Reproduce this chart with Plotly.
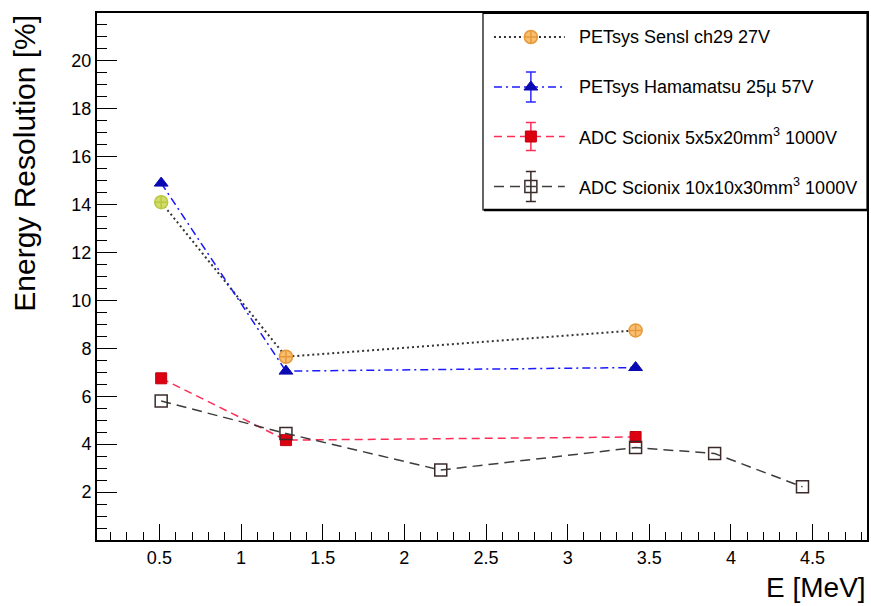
import plotly.graph_objects as go

# Photon energies [MeV] and measured energy resolutions [%]
e_petsys = [0.511, 1.275, 3.416]
res_sensl = [14.1, 7.65, 8.75]
res_hamamatsu = [14.9, 7.05, 7.2]

e_adc_small = [0.511, 1.275, 3.416]
res_adc_small = [6.75, 4.17, 4.3]

e_adc_large = [0.511, 1.275, 2.223, 3.416, 3.90, 4.438]
res_adc_large = [5.8, 4.45, 2.92, 3.86, 3.61, 2.22]

legend_labels = [
    "PETsys Sensl ch29 27V",
    "PETsys Hamamatsu 25\u00b5 57V",
    "ADC Scionix 5x5x20mm<sup>3</sup> 1000V",
    "ADC Scionix 10x10x30mm<sup>3</sup> 1000V",
]

FONT = "Liberation Sans, Arial, Helvetica, sans-serif"

# Per-series style
styles = [
    dict(line=dict(color="#333333", width=2, dash="2px,3px"),
         marker=dict(symbol="circle-cross", size=13, color="#f7c070",
                     line=dict(color="#e8983a", width=1.5)),
         err_color="#f0b060"),
    dict(line=dict(color="#1a1aff", width=1.5, dash="8px,4px,2px,4px"),
         marker=dict(symbol="triangle-up", size=12, color="#0a0ab4",
                     line=dict(color="#0a0ab4", width=1)),
         err_color="#2a2aff"),
    dict(line=dict(color="#ff2d55", width=1.5, dash="8px,5px"),
         marker=dict(symbol="square", size=11, color="#dd0010",
                     line=dict(color="#c00010", width=1)),
         err_color="#ff2d55"),
    dict(line=dict(color="#3c3c3c", width=1.5, dash="10px,6px"),
         marker=dict(symbol="square-open", size=12, color="#3a2a2a",
                     line=dict(color="#3a2a2a", width=1.5)),
         err_color="#3a2a2a"),
]

series = [
    (e_petsys, res_sensl),
    (e_petsys, res_hamamatsu),
    (e_adc_small, res_adc_small),
    (e_adc_large, res_adc_large),
]

fig = go.Figure()

for i, (xs, ys) in enumerate(series):
    st = styles[i]
    marker = dict(st["marker"])
    if i == 0:
        # first Sensl point drawn in a lighter, greener tone
        marker["color"] = ["#d2dc6a", "#f7c070", "#f7c070"]
        marker["line"] = dict(color=["#b8c840", "#e8983a", "#e8983a"], width=1.5)
    fig.add_trace(go.Scatter(
        x=xs, y=ys, mode="lines+markers",
        line=st["line"], marker=marker,
        showlegend=False, cliponaxis=False,
    ))

# Legend box drawn in pixel coordinates (x2/y2 map 1:1 onto the plot area)
W, H = 871, 606
PLOT_L, PLOT_R, PLOT_T, PLOT_B = 97, 869, 13, 540
leg_x0, leg_x1, leg_y0, leg_y1 = 484, 869, 13.5, 210
row_y = [37, 87, 136.5, 186.5]
sample_x0, sample_x1, mark_x, text_x = 495, 566, 532, 578
err_len = [0, 15, 14, 15]

shapes = [
    dict(type="rect", xref="x2", yref="y2", x0=leg_x0, x1=leg_x1,
         y0=leg_y0, y1=leg_y1, line=dict(color="black", width=1.2),
         fillcolor="white", layer="below"),
    dict(type="line", xref="x2", yref="y2", x0=leg_x0 + 1, x1=leg_x1,
         y0=leg_y1, y1=leg_y1, line=dict(color="black", width=2.5),
         layer="above"),
]
annotations = []
for i, label in enumerate(legend_labels):
    st = styles[i]
    # line sample
    fig.add_trace(go.Scatter(
        x=[sample_x0, sample_x1], y=[row_y[i], row_y[i]], mode="lines",
        line=st["line"], xaxis="x2", yaxis="y2", showlegend=False,
        hoverinfo="skip", cliponaxis=False,
    ))
    annotations.append(dict(text=label, xref="x2", yref="y2", x=text_x, y=row_y[i],
                            xanchor="left", yanchor="middle", showarrow=False,
                            font=dict(family=FONT, size=18, color="black")))

fig.update_layout(shapes=shapes)

for i in range(4):
    st = styles[i]
    err = dict(type="data", array=[err_len[i]], arrayminus=[err_len[i]],
               color=st["err_color"], thickness=1.5, width=5,
               visible=bool(err_len[i] > 0))
    fig.add_trace(go.Scatter(
        x=[mark_x], y=[row_y[i]], mode="markers", marker=st["marker"],
        error_y=err, xaxis="x2", yaxis="y2", showlegend=False,
        cliponaxis=False,
    ))

# Axis titles (paper coordinates)
plot_w = PLOT_R - PLOT_L
plot_h = PLOT_B - PLOT_T
annotations.append(dict(text="Energy Resolution [%]", xref="paper", yref="paper",
                        x=(24 - PLOT_L) / plot_w, y=1.0,
                        xanchor="center", yanchor="top",
                        textangle=-90, showarrow=False,
                        font=dict(family=FONT, size=30, color="black")))
annotations.append(dict(text="E [MeV]", xref="paper", yref="paper",
                        x=(870 - PLOT_L) / plot_w, y=(PLOT_B - 587) / plot_h,
                        xanchor="right", yanchor="middle",
                        showarrow=False,
                        font=dict(family=FONT, size=28, color="black")))

fig.update_layout(
    width=W, height=H,
    margin=dict(l=PLOT_L, r=W - PLOT_R, t=PLOT_T, b=H - PLOT_B),
    paper_bgcolor="white", plot_bgcolor="white",
    annotations=annotations,
    xaxis=dict(
        range=[0.118, 4.833], tick0=0, dtick=0.5,
        ticks="inside", ticklen=16, tickwidth=1.3, tickcolor="black",
        minor=dict(dtick=0.1, ticks="inside", ticklen=8, tickwidth=1.1,
                   tickcolor="black"),
        showline=True, linewidth=2, linecolor="black", mirror=True,
        showgrid=False, zeroline=False,
        tickfont=dict(family=FONT, size=18, color="black"),
    ),
    yaxis=dict(
        range=[0, 22], tickvals=[2, 4, 6, 8, 10, 12, 14, 16, 18, 20],
        ticks="inside", ticklen=20, tickwidth=1.3, tickcolor="black",
        minor=dict(dtick=0.5, ticks="inside", ticklen=10, tickwidth=1.1,
                   tickcolor="black"),
        showline=True, linewidth=2, linecolor="black", mirror=True,
        showgrid=False, zeroline=False,
        tickfont=dict(family=FONT, size=18, color="black"),
    ),
    xaxis2=dict(range=[PLOT_L, PLOT_R], overlaying="x", anchor="y2",
                visible=False, showgrid=False, zeroline=False),
    yaxis2=dict(range=[PLOT_B, PLOT_T], overlaying="y", anchor="x2",
                visible=False, showgrid=False, zeroline=False),
)

fig.write_html("out.html")
